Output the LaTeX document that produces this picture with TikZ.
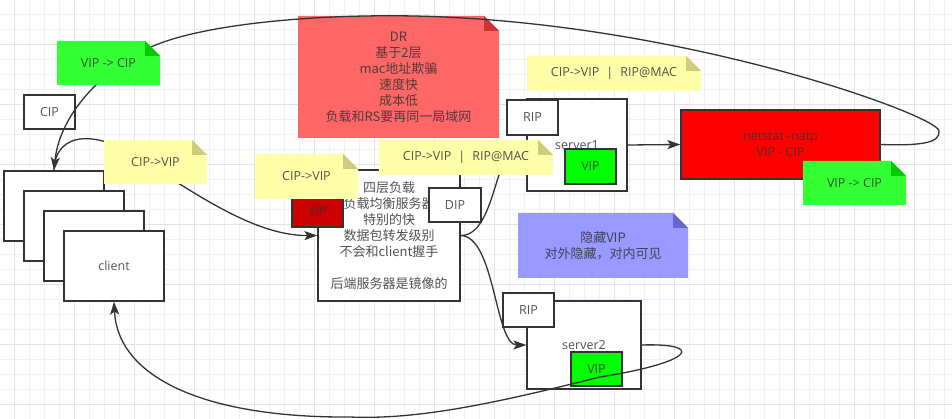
\documentclass[tikz,border=0pt]{standalone}
\usepackage{fontspec}
\setmainfont{Noto Sans CJK SC}
\newfontfamily\latinf{Open Sans}
\usetikzlibrary{arrows.meta}
\definecolor{bord}{HTML}{333333}
\definecolor{txt}{HTML}{333333}
\definecolor{gmin}{HTML}{F1F1F1}
\definecolor{gmaj}{HTML}{E3E3E3}
\definecolor{gnote}{HTML}{33FF33}
\definecolor{gfold}{HTML}{00CC00}
\definecolor{ynote}{HTML}{FFFFAA}
\definecolor{yfold}{HTML}{CCCC7A}
\definecolor{rnote}{HTML}{FF6666}
\definecolor{rfold}{HTML}{CC3333}
\definecolor{pnote}{HTML}{9999FF}
\definecolor{pfold}{HTML}{6666CC}
\definecolor{netred}{HTML}{FF0000}
\definecolor{vipred}{HTML}{CC0000}
\definecolor{vipgreen}{HTML}{00FF00}
\newcommand\dfont{\fontsize{13}{16}\selectfont}
\newcommand\lfont{\latinf\fontsize{12.5}{16}\selectfont}
\newcommand\notebox[8]{%
  \fill[#6] (#2,#3) -- ({#4-15},#3) -- (#4,{#3+15}) -- (#4,#5) -- (#2,#5) -- cycle;
  \fill[#7] ({#4-15},#3) -- ({#4-15},{#3+15}) -- (#4,{#3+15}) -- cycle;
  \node[lbl] (#1) at ({(#2+#4)/2},{(#3+#5)/2}) {#8};
}
\tikzset{
  bx/.style={draw=bord, line width=1.3pt, fill=white, inner sep=0pt, font=\dfont, text=txt, text opacity=0.85, align=center},
  lbl/.style={inner sep=0pt, font=\dfont, text=txt, text opacity=0.85, align=center},
  lat/.style={font=\lfont},
  conn/.style={draw=bord, line width=1.3pt},
  arr/.style={-{Stealth[length=13pt,width=9pt,inset=3pt]}},
  gridminor/.style={draw=gmin, line width=0.8pt},
  gridmajor/.style={draw=gmaj, line width=0.9pt},
}
\begin{document}
\begin{tikzpicture}[x=1pt,y=-1pt]
\useasboundingbox (0,0) rectangle (952,419);
\fill[white] (0,0) rectangle (952,419);
% grid
\foreach \i in {0,...,62} { \draw[gridminor] ({14+15*\i},0) -- ({14+15*\i},419); }
\foreach \j in {0,...,27} { \draw[gridminor] (0,{14+15*\j}) -- (952,{14+15*\j}); }
\foreach \i in {0,...,15} { \draw[gridmajor] ({14+60*\i},0) -- ({14+60*\i},419); }
\foreach \j in {0,...,6} { \draw[gridmajor] (0,{44+60*\j}) -- (952,{44+60*\j}); }

% DR note
\notebox{dr}{298}{16}{499}{138}{rnote}{rfold}{DR\\基于2层\\mac地址欺骗\\速度快\\成本低\\负载和RS要再同一局域网}

% clients
\node[bx, minimum width=100pt, minimum height=70pt] (c1) at (54,206) {};
\node[bx, minimum width=100pt, minimum height=70pt] (c2) at (74,226) {};
\node[bx, minimum width=100pt, minimum height=70pt] (c3) at (94,246) {};
\node[bx, lat, minimum width=100pt, minimum height=70pt] (c4) at (114,266) {client};
\node[bx, lat, minimum width=51pt, minimum height=34pt] (cip) at (49.5,112) {CIP};

% load balancer
\node[bx, minimum width=142pt, minimum height=131pt] (lb) at (389,235.5) {四层负载\\负载均衡服务器\\特别的快\\数据包转发级别\\不会和client握手\\[16pt]后端服务器是镜像的};
\node[bx, lat, fill=vipred, minimum width=51pt, minimum height=32pt] (vipr) at (317.5,211) {VIP};
\node[bx, lat, minimum width=52pt, minimum height=34pt] (dip) at (455,205) {DIP};

% server1
\node[bx, lat, minimum width=100pt, minimum height=92pt] (srv1) at (577,145) {server1};
\node[bx, lat, minimum width=51pt, minimum height=35pt] (rip1) at (532.5,117.5) {RIP};
\node[bx, lat, fill=vipgreen, minimum width=51pt, minimum height=35pt] (vip1) at (590.5,166.5) {VIP};

% server2
\node[bx, lat, minimum width=114pt, minimum height=88pt] (srv2) at (584,345) {server2};
\node[bx, lat, minimum width=51pt, minimum height=34pt] (rip2) at (528.5,310) {RIP};
\node[bx, lat, fill=vipgreen, minimum width=51pt, minimum height=34pt] (vip2) at (596.5,369) {VIP};

% netstat
\node[bx, lat, fill=netred, minimum width=199pt, minimum height=69pt] (net) at (780.5,144.5) {netstat -natp\\VIP - CIP};

% purple note
\notebox{hide}{518}{213}{688}{278}{pnote}{pfold}{隐藏VIP\\对外隐藏，对内可见}

% connectors
\draw[conn, arr] (net.east) .. controls (925,146) and (940,142) .. (939,131)
  .. controls (939,115) and (650,10) .. (366,16)
  .. controls (300,17) and (200,25) .. (151,47)
  .. controls (110,65) and (60,110) .. (c1.north);
\draw[conn, arr] (c1.north) .. controls (55,130) and (100,130) .. (140,160)
  .. controls (185,185) and (250,236) .. (lb.west);
\draw[conn, arr] (lb.east) .. controls (495,236) and (495,150) .. (srv1.west);
\draw[conn, arr] (lb.east) .. controls (495,236) and (495,345) .. (srv2.west);
\draw[conn, arr] (srv1.east) -- (net.west);
\draw[conn, arr] (srv2.east) .. controls (705,343) and (695,362) .. (600,377)
  .. controls (500,402) and (420,420) .. (350,417)
  .. controls (210,418) and (118,380) .. (c4.south);

% notes on top
\notebox{g1}{57}{41}{160}{85}{gnote}{gfold}{\lfont VIP -> CIP}
\notebox{y1}{104}{140}{207}{184}{ynote}{yfold}{\lfont CIP->VIP}
\notebox{y2}{255}{154}{358}{199}{ynote}{yfold}{\lfont CIP->VIP}
\notebox{y3}{379}{140}{553}{175}{ynote}{yfold}{\lfont CIP->VIP\hspace{7pt}|\hspace{7pt}RIP@MAC}
\notebox{y4}{527}{56}{701}{91}{ynote}{yfold}{\lfont CIP->VIP\hspace{7pt}|\hspace{7pt}RIP@MAC}
\notebox{g2}{803}{161}{906}{205}{gnote}{gfold}{\lfont VIP -> CIP}
\end{tikzpicture}
\end{document}
